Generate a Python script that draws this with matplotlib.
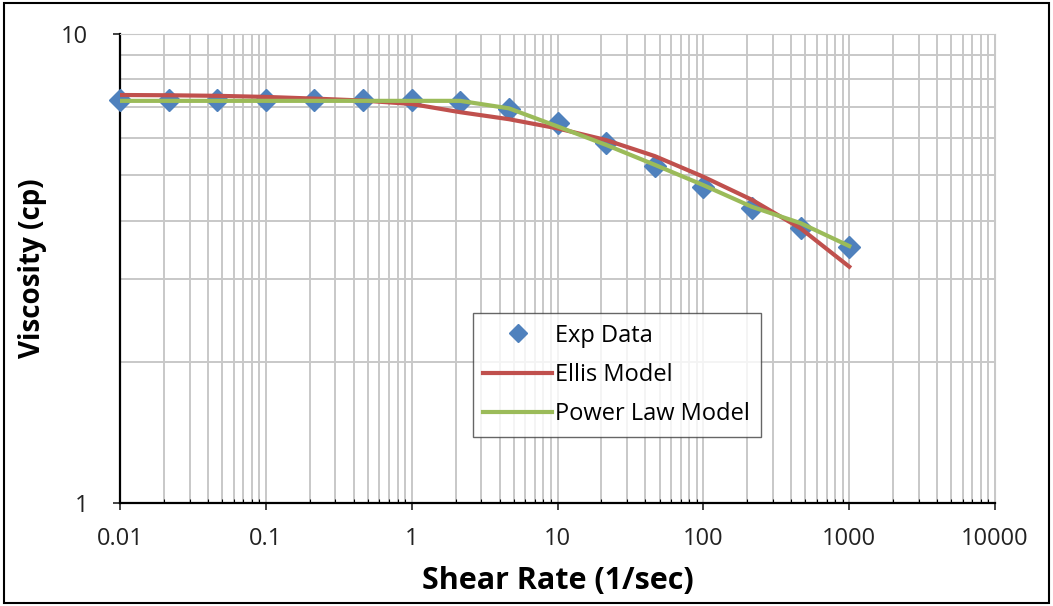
import matplotlib
matplotlib.use("Agg")
import matplotlib.pyplot as plt
from matplotlib.ticker import FixedLocator, FuncFormatter, LogLocator, NullFormatter
from matplotlib.patches import Rectangle

plt.rcParams['font.family'] = ['Open Sans', 'DejaVu Sans']

# shear rate (1/sec)
shear_rate = [0.01, 0.0215, 0.0464, 0.1, 0.215, 0.464, 1, 2.15, 4.64,
              10, 21.5, 46.4, 100, 215, 464, 1000]
# measured viscosity (cp)
exp_visc = [7.23, 7.23, 7.23, 7.23, 7.23, 7.23, 7.23, 7.17, 6.91,
            6.45, 5.85, 5.23, 4.71, 4.25, 3.85, 3.52]
ellis_visc = [7.41, 7.40, 7.38, 7.34, 7.28, 7.21, 7.09, 6.81, 6.58,
              6.29, 5.94, 5.49, 4.96, 4.43, 3.85, 3.19]
power_visc = [7.20, 7.20, 7.20, 7.20, 7.20, 7.20, 7.20, 7.20, 6.94,
              6.35, 5.80, 5.26, 4.76, 4.28, 3.95, 3.53]

x_ticks = [0.01, 0.1, 1, 10, 100, 1000, 10000]
x_tick_labels = ['0.01', '0.1', '1', '10', '100', '1000', '10000']
y_ticks = [1, 10]
y_tick_labels = ['1', '10']

fig = plt.figure(figsize=(10.53, 6.06), dpi=100)
ax = fig.add_axes([0.114, 0.170, 0.831, 0.774])

ax.plot(shear_rate, exp_visc, linestyle='none', marker='D', markersize=11,
        color='#4F81BD', label='Exp Data', zorder=3, clip_on=False)
ax.plot(shear_rate, ellis_visc, color='#C0504D', lw=3, label='Ellis Model', zorder=4)
ax.plot(shear_rate, power_visc, color='#9BBB59', lw=3, label='Power Law Model', zorder=5)

ax.set_xscale('log')
ax.set_yscale('log')
ax.set_xlim(0.01, 10000)
ax.set_ylim(1, 10)

ax.xaxis.set_major_locator(FixedLocator(x_ticks))
ax.xaxis.set_major_formatter(FuncFormatter(lambda v, p: x_tick_labels[x_ticks.index(v)] if v in x_ticks else ''))
ax.xaxis.set_minor_locator(LogLocator(base=10, subs=range(2, 10), numticks=20))
ax.xaxis.set_minor_formatter(NullFormatter())
ax.yaxis.set_major_locator(FixedLocator(y_ticks))
ax.yaxis.set_major_formatter(FuncFormatter(lambda v, p: y_tick_labels[y_ticks.index(v)] if v in y_ticks else ''))
ax.yaxis.set_minor_locator(LogLocator(base=10, subs=range(2, 10), numticks=20))
ax.yaxis.set_minor_formatter(NullFormatter())

ax.grid(True, which='both', color='#C8C8C8', lw=1.4)
ax.set_axisbelow(True)
ax.tick_params(axis='x', which='major', direction='out', length=5, width=1.2,
               labelsize=17, colors='#222222', pad=12)
ax.tick_params(axis='x', which='minor', direction='in', length=3, width=0.8)
ax.tick_params(axis='y', which='major', direction='out', length=5, width=1.2,
               labelsize=17, colors='#222222', pad=18)
ax.tick_params(axis='y', which='minor', length=0)

for side in ['top', 'right']:
    ax.spines[side].set_color('#C8C8C8')
for side in ['left', 'bottom']:
    ax.spines[side].set_linewidth(1.6)

ax.set_xlabel('Shear Rate (1/sec)', fontsize=22, fontweight='bold', labelpad=11)
ax.set_ylabel('Viscosity (cp)', fontsize=20, fontweight='bold', labelpad=10)

leg = ax.legend(loc='upper left', bbox_to_anchor=(0.403, 0.405), fontsize=17,
                frameon=True, fancybox=False, edgecolor='#404040',
                handlelength=2.9, handletextpad=0.15, labelspacing=0.65,
                borderpad=0.45, borderaxespad=0, markerscale=0.85)
leg.get_frame().set_linewidth(1.0)

fig.patches.append(Rectangle((0.004, 0.005), 0.992, 0.99, transform=fig.transFigure,
                             fill=False, edgecolor='black', lw=1.5))

fig.savefig('out.png', dpi=100)
